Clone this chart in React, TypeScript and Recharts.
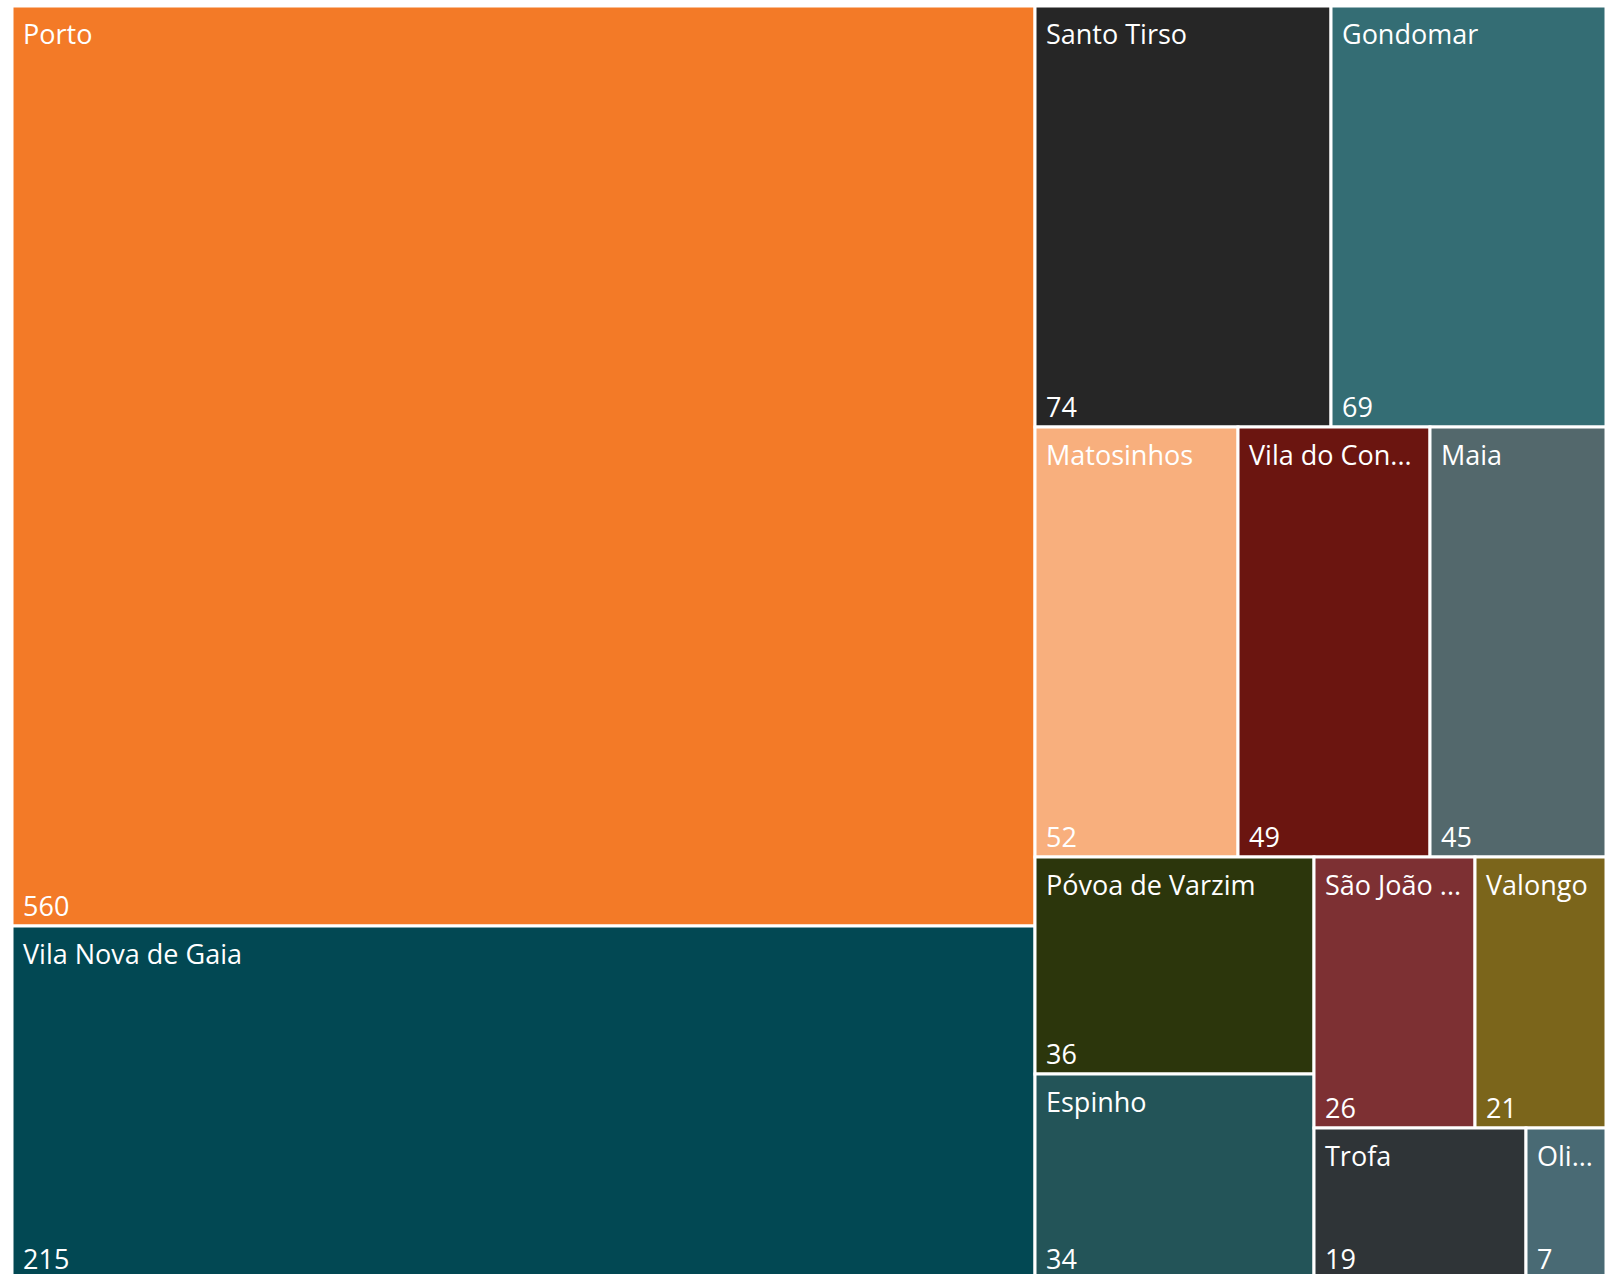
import { Treemap } from "recharts";

const names = [
  "Porto",
  "Vila Nova de Gaia",
  "Santo Tirso",
  "Gondomar",
  "Matosinhos",
  "Vila do Conde",
  "Maia",
  "Póvoa de Varzim",
  "Espinho",
  "São João da Madeira",
  "Valongo",
  "Trofa",
  "Oliveira de Azeméis",
];

const values = [560, 215, 74, 69, 52, 49, 45, 36, 34, 26, 21, 19, 7];

const colors = [
  "#F37A27",
  "#024853",
  "#262626",
  "#346D74",
  "#F8AF7D",
  "#6B1510",
  "#53686C",
  "#2C360C",
  "#235458",
  "#7D3033",
  "#7B651B",
  "#2F3437",
  "#496A74",
];

const data = names.map((name, i) => ({ name, size: values[i], fill: colors[i] }));

const FONT = '"Segoe UI", "Open Sans", sans-serif';
const FONT_SIZE = 27;
const PAD = 11;

let ctx: CanvasRenderingContext2D | null = null;
function fitText(text: string, maxW: number): string {
  if (!ctx) ctx = document.createElement("canvas").getContext("2d");
  if (!ctx) return text;
  ctx.font = `${FONT_SIZE}px ${FONT}`;
  if (ctx.measureText(text).width <= maxW) return text;
  let t = text;
  while (t.length > 0 && ctx.measureText(t + "...").width > maxW) t = t.slice(0, -1);
  return t + "...";
}

function Cell(props: any) {
  const { x, y, width, height, depth, name, value, fill } = props;
  if (depth !== 1) return <g />;
  const avail = width - PAD * 2;
  return (
    <g>
      <rect x={x} y={y} width={width} height={height} fill={fill} stroke="#fff" strokeWidth={3} />
      <text x={x + PAD} y={y + 37.5} fill="#fff" fontSize={FONT_SIZE} fontFamily={FONT}>
        {fitText(name, avail)}
      </text>
      <text x={x + PAD} y={y + height - 10} fill="#fff" fontSize={FONT_SIZE} fontFamily={FONT}>
        {value}
      </text>
    </g>
  );
}

export default function App() {
  return (
    <div style={{ position: "absolute", left: 11.5, top: 5.5, width: 1594, height: 1273 }}>
      <Treemap
        width={1594}
        height={1273}
        data={data}
        dataKey="size"
        nameKey="name"
        isAnimationActive={false}
        content={(p: any) => <Cell {...p} />}
      />
    </div>
  );
}
